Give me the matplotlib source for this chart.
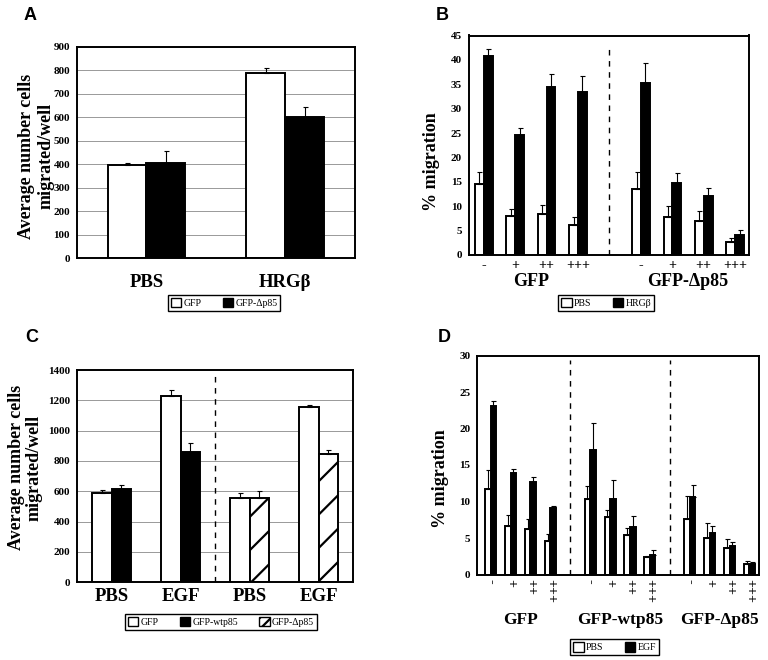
import matplotlib.pyplot as plt
from matplotlib.patches import Patch
import numpy as np

# ---- data ----
# A
a_groups = ['PBS', 'HRGβ']
a_gfp = [398, 790]
a_gfp_err = [10, 22]
a_dp85 = [408, 601]
a_dp85_err = [49, 42]

# B
b_doses = ['-', '+', '++', '+++']
b_groups = ['GFP', 'GFP-Δp85']
b_pbs_gfp = [14.5, 8.0, 8.4, 6.1]
b_pbs_gfp_err = [2.5, 1.5, 1.8, 1.7]
b_hrg_gfp = [40.7, 24.6, 34.5, 33.5]
b_hrg_gfp_err = [1.6, 1.4, 2.7, 3.2]
b_pbs_dp85 = [13.6, 7.8, 7.0, 2.7]
b_pbs_dp85_err = [3.4, 2.3, 2.1, 0.8]
b_hrg_dp85 = [35.3, 14.7, 12.1, 4.1]
b_hrg_dp85_err = [4.0, 2.1, 1.7, 1.1]

# C
c_labels = ['PBS', 'EGF', 'PBS', 'EGF']
c_gfp = [592, 1226, 559, 1156]
c_gfp_err = [18, 40, 27, 16]
c_wtp85 = [612, 860]
c_wtp85_err = [29, 61]
c_dp85 = [557, 849]
c_dp85_err = [44, 22]

# D
d_doses = ['-', '+', '++', '+++']
d_groups = ['GFP', 'GFP-wtp85', 'GFP-Δp85']
d_pbs = [[11.75, 6.7, 6.2, 4.55], [10.4, 7.9, 5.4, 2.4], [7.6, 5.0, 3.6, 1.46]]
d_pbs_err = [[2.5, 1.4, 1.35, 1.0], [1.7, 1.0, 1.0, 0.1], [3.1, 2.1, 1.3, 0.35]]
d_egf = [[23.1, 13.9, 12.7, 9.15], [17.0, 10.3, 6.55, 2.7], [10.6, 5.65, 3.87, 1.46]]
d_egf_err = [[0.6, 0.5, 0.6, 0.25], [3.7, 2.7, 1.4, 0.7], [1.7, 1.0, 0.6, 0.3]]

plt.rcParams['font.family'] = ['Liberation Serif', 'DejaVu Serif']
plt.rcParams['font.weight'] = 'bold'
plt.rcParams['hatch.linewidth'] = 1.6

W, H = 768, 660
fig = plt.figure(figsize=(W / 100, H / 100), dpi=100)


def place(l, t, r, b):
    return fig.add_axes([l / W, 1 - b / H, (r - l) / W, (b - t) / H])


def style(ax, grid=False):
    for s in ax.spines.values():
        s.set_linewidth(1.4)
    ax.tick_params(axis='y', length=0, pad=5, labelsize=8)
    ax.tick_params(axis='x', length=0)
    if grid:
        ax.yaxis.grid(True, color='0.6', lw=0.7)
        ax.set_axisbelow(True)


def bars(ax, x, h, err, color, hatch=None, w=0.28):
    ax.bar(x, h, w, color=color, edgecolor='black', lw=1.4, hatch=hatch, zorder=2)
    ax.errorbar(x, h, yerr=[np.zeros(len(h)), err], fmt='none', ecolor='black',
                elinewidth=0.8, capsize=1.8, capthick=0.8, zorder=3)


def legend(ax, labels, styles, x, y, ncol):
    handles = [Patch(facecolor=c, edgecolor='black', lw=1, hatch=h) for c, h in styles]
    leg = ax.legend(handles, labels, loc='upper center', bbox_to_anchor=(x, y), ncol=ncol,
                    fancybox=False, edgecolor='black', framealpha=1,
                    prop={'size': 7, 'weight': 'normal'}, handlelength=1.1,
                    handleheight=1.1, handletextpad=0.2, columnspacing=2.2,
                    borderpad=0.3)
    leg.get_frame().set_linewidth(1)


def ylab(ax, text, x, y, ls=1.2):
    ax.text(x, y, text, transform=ax.transAxes, rotation=90, ha='center', va='center',
            fontsize=13, fontweight='bold', linespacing=ls, multialignment='center')


# ---- A ----
ax = place(77, 47, 354.5, 258.3)
style(ax, grid=True)
xa = np.arange(len(a_groups))
bars(ax, xa - 0.14, a_gfp, a_gfp_err, 'white')
bars(ax, xa + 0.14, a_dp85, a_dp85_err, 'black')
ax.set_xlim(-0.5, 1.5)
ax.set_ylim(0, 900)
ax.set_yticks(range(0, 901, 100))
ax.set_xticks(xa)
ax.set_xticklabels(a_groups, fontsize=13.5)
ax.tick_params(axis='x', pad=11)
ylab(ax, 'Average number cells\nmigrated/well', -0.147, 0.484)
legend(ax, ['GFP', 'GFP-Δp85'], [('white', None), ('black', None)], 0.53, -0.15, 2)

# ---- B ----
ax = place(468.7, 35.5, 749, 255)
style(ax)
for g, (pbs, pe, hrg, he) in enumerate([(b_pbs_gfp, b_pbs_gfp_err, b_hrg_gfp, b_hrg_gfp_err),
                                        (b_pbs_dp85, b_pbs_dp85_err, b_hrg_dp85, b_hrg_dp85_err)]):
    xb = np.arange(len(b_doses)) + 5 * g
    bars(ax, xb - 0.14, pbs, pe, 'white')
    bars(ax, xb + 0.14, hrg, he, 'black')
    ax.text(xb.mean(), -0.12, b_groups[g], transform=ax.get_xaxis_transform(),
            ha='center', va='center', fontsize=13)
ax.axvline(4, ymax=0.94, color='black', lw=1, ls=(0, (4, 4)))
ax.set_xlim(-0.48, 8.44)
ax.set_ylim(0, 45)
ax.set_yticks(range(0, 46, 5))
ax.set_xticks(list(range(4)) + list(range(5, 9)))
ax.set_xticklabels(b_doses * 2, fontsize=10)
ax.tick_params(axis='x', pad=3)
ylab(ax, '% migration', -0.131, 0.426)
legend(ax, ['PBS', 'HRGβ'], [('white', None), ('black', None)], 0.49, -0.16, 2)

# ---- C ----
ax = place(77.3, 370, 353.3, 582.3)
style(ax, grid=True)
xc = np.arange(len(c_labels))
bars(ax, xc - 0.14, c_gfp, c_gfp_err, 'white')
bars(ax, xc[:2] + 0.14, c_wtp85, c_wtp85_err, 'black')
bars(ax, xc[2:] + 0.14, c_dp85, c_dp85_err, 'white', hatch='/')
ax.axvline(1.5, ymax=0.97, color='black', lw=1, ls=(0, (4, 4)))
ax.set_xlim(-0.5, 3.5)
ax.set_ylim(0, 1400)
ax.set_yticks(range(0, 1401, 200))
ax.set_xticks(xc)
ax.set_xticklabels(c_labels, fontsize=13.5)
ax.tick_params(axis='x', pad=4)
ylab(ax, 'Average number cells\nmigrated/well', -0.188, 0.54, ls=1.05)
legend(ax, ['GFP', 'GFP-wtp85', 'GFP-Δp85'],
       [('white', None), ('black', None), ('white', '///')], 0.52, -0.126, 3)

# ---- D ----
ax = place(477.3, 355.5, 759, 574.5)
style(ax)
ticks = []
for g in range(len(d_groups)):
    xd = np.arange(len(d_doses)) + 5 * g
    ticks += list(xd)
    bars(ax, xd - 0.14, d_pbs[g], d_pbs_err[g], 'white')
    bars(ax, xd + 0.14, d_egf[g], d_egf_err[g], 'black')
    ax.text(xd.mean(), -0.208, d_groups[g], transform=ax.get_xaxis_transform(),
            ha='center', va='center', fontsize=12.5)
for xv in (4, 9):
    ax.axvline(xv, ymax=0.98, color='black', lw=1, ls=(0, (4, 4)))
ax.set_xlim(-0.67, 13.48)
ax.set_ylim(0, 30)
ax.set_yticks(range(0, 31, 5))
ax.set_xticks(ticks)
ax.set_xticklabels(d_doses * 3, fontsize=10, rotation=-90, va='top')
ax.tick_params(axis='x', pad=3)
ylab(ax, '% migration', -0.129, 0.44)
legend(ax, ['PBS', 'EGF'], [('white', None), ('black', None)], 0.487, -0.274, 2)

# panel letters
for letter, x, y in [('A', 30, 15), ('B', 442, 15), ('C', 32, 338), ('D', 444, 338)]:
    fig.text(x / W, 1 - y / H, letter, family=['Liberation Sans', 'DejaVu Sans'],
             fontweight='bold', fontsize=13, ha='center', va='center')

fig.savefig('out.png', dpi=100)
